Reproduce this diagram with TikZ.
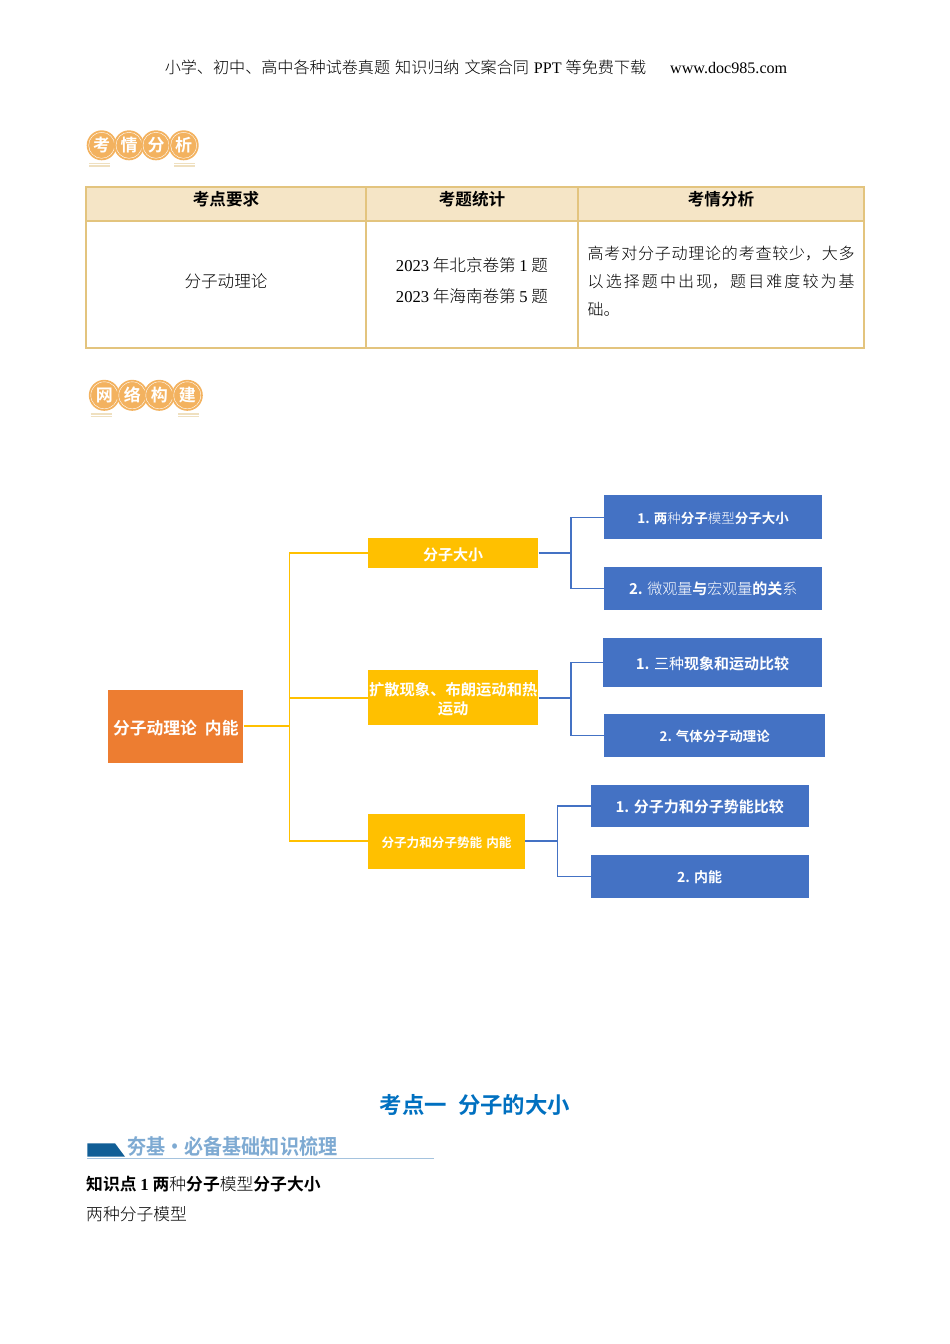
\documentclass[tikz,border=0pt]{standalone}
\usepackage{fontspec}
\setmainfont{Liberation Serif}
\newfontfamily\cjkr{Noto Sans CJK SC}
\newfontfamily\cjkb{Noto Sans CJK SC Bold}
\newfontfamily\cjkl{Noto Sans CJK SC Light}
\XeTeXlinebreaklocale "zh"
\XeTeXlinebreakskip=0pt plus 3pt
\newcommand{\lat}[1]{{\rmfamily #1}}
\newcommand{\fsz}[1]{\fontsize{#1}{#1}\selectfont}
\newcommand{\dn}[2]{\raisebox{0pt}[\dimexpr\height+#1pt+#1pt\relax][\depth]{#2}}
\definecolor{tabline}{HTML}{E3C47E}
\definecolor{tabhead}{HTML}{F5E5C6}
\definecolor{badge}{HTML}{F3B25F}
\definecolor{badgeline}{HTML}{EFE0C0}
\definecolor{rootfill}{HTML}{ED7D31}
\definecolor{midfill}{HTML}{FFC000}
\definecolor{subfill}{HTML}{4472C4}
\definecolor{titleblue}{HTML}{0070C0}
\definecolor{bannerblue}{HTML}{115E96}
\definecolor{bannertext}{HTML}{7EAAD2}
\definecolor{bannerline}{HTML}{A5C3DE}
\tikzset{
  rootbox/.style={fill=rootfill, text=white, inner sep=0pt, font=\cjkb\fsz{16.8}},
  midbox/.style={fill=midfill, text=white, inner sep=0pt, align=center},
  subbox/.style={fill=subfill, text=white, inner sep=0pt, align=center},
  ylink/.style={draw=midfill, line width=1.6pt},
  ylinkin/.style={draw=midfill, line width=2.2pt},
  blink/.style={draw=subfill, line width=1.5pt},
  blinkin/.style={draw=subfill, line width=1.8pt},
  headcell/.style={inner sep=0pt, font=\cjkb\fsz{16.6}},
  bodycell/.style={inner sep=0pt, font=\cjkl\fsz{16.6}},
  coin/.style={circle, fill=badge, minimum size=30pt, inner sep=0pt, text=white, font=\cjkb\fsz{17}},
  coinring/.style={draw=white, line width=.4pt},
  coinbar/.style={draw=badgeline, line width=1.4pt},
}
\begin{document}
\begin{tikzpicture}[x=1pt,y=-1pt]
  \useasboundingbox (0,0) rectangle (950,1344);

  \node[inner sep=0pt, font=\cjkl\fsz{16.1}] (pagehead) at (476,67){小学、初中、高中各种试卷真题\hspace{5pt}知识归纳\hspace{5pt}文案合同\hspace{5pt}\lat{PPT}\hspace{4pt}等免费下载\hspace{24pt}\lat{www.doc985.com}};

  % first badge
  \foreach \x/\t [count=\i] in {101.7/考,129/情,156/分,183.7/析}{
    \node[coin] (kq\i) at (\x,145.3){\t};
    \draw[coinring] (kq\i) circle (13pt);
  }
  \foreach \y in {163.4,166}{
    \draw[coinbar] (89,\y) -- (110,\y);
    \draw[coinbar] (174,\y) -- (195,\y);
  }

  % table
  \fill[tabhead] (86,187) rectangle (864,221);
  \draw[tabline, line width=1.6pt] (86,187) rectangle (864,348);
  \draw[tabline, line width=1.4pt] (86,221) -- (864,221);
  \draw[tabline, line width=1.4pt] (366,187) -- (366,348);
  \draw[tabline, line width=1.4pt] (578,187) -- (578,348);
  \node[headcell] (head0) at (226,199){考点要求};
  \node[headcell] (head1) at (472,199){考题统计};
  \node[headcell] (head2) at (721,199){考情分析};
  \node[bodycell] (cell0) at (226,281){分子动理论};
  \node[bodycell] (cell1) at (472,265){\lat{2023} 年北京卷第 \lat{1} 题};
  \node[bodycell] (cell2) at (472,296){\lat{2023} 年海南卷第 \lat{5} 题};
  \node[bodycell, text width=267pt, align=justify, font=\cjkl\fontsize{16}{28}\selectfont, anchor=north west] (cell3) at (587.5,246){高考对分子动理论的考查较少，大多\linebreak 以选择题中出现，题目难度较为基\linebreak 础。};

  % second badge
  \foreach \x/\t [count=\i] in {104.3/网,132.3/络,159.3/构,187.3/建}{
    \node[coin, minimum size=31pt] (wl\i) at (\x,395.3){\t};
    \draw[coinring] (wl\i) circle (13.5pt);
  }
  \foreach \y in {414,416.6}{
    \draw[coinbar] (90.7,\y) -- (112,\y);
    \draw[coinbar] (178,\y) -- (199.3,\y);
  }

  % tree
  \node[rootbox, minimum width=135pt, minimum height=72.7pt] (root) at (175.8,726.3){\dn{2}{分子动理论\hspace{8pt}内能}};
  \node[midbox, minimum width=170.3pt, minimum height=30.6pt, font=\cjkb\fsz{15}] (size) at (453.2,553){\dn{1.5}{分子大小}};
  \node[midbox, minimum width=170.3pt, minimum height=55.3pt, font=\cjkb\fontsize{15.3}{19.5}\selectfont] (move) at (453.2,697.7){\dn{1.5}{扩散现象、布朗运动和热}\\运动};
  \node[midbox, minimum width=157pt, minimum height=55pt, font=\cjkb\fsz{12.6}] (force) at (446.5,841.2){\dn{1.5}{分子力和分子势能\hspace{4pt}内能}};

  \node[subbox, minimum width=218.3pt, minimum height=44pt, font=\cjkb\fsz{13.5}] (sub0) at (713.2,517.3){\dn{1}{1. 两{\cjkl 种}分子{\cjkl 模型}分子大小}};
  \node[subbox, minimum width=218.3pt, minimum height=43.6pt, font=\cjkb\fsz{15}] (sub1) at (713.2,588.5){\dn{.5}{2. {\cjkl 微观量}与{\cjkl 宏观量}的关{\cjkl 系}}};
  \node[subbox, minimum width=218.4pt, minimum height=48.7pt, font=\cjkb\fsz{15}] (sub2) at (712.5,662.7){\dn{1}{1. {\cjkr 三种}现象和运动比较}};
  \node[subbox, minimum width=221.3pt, minimum height=42.7pt, font=\cjkb\fsz{13.4}] (sub3) at (714.7,735.7){\dn{.5}{2. 气体分子动理论}};
  \node[subbox, minimum width=218pt, minimum height=42.6pt, font=\cjkb\fsz{15}] (sub4) at (699.7,806){\dn{1}{1. 分子力和分子势能比较}};
  \node[subbox, minimum width=218pt, minimum height=42.4pt, font=\cjkb\fsz{14}] (sub5) at (699.7,876.5){\dn{1}{2. 内能}};

  \coordinate (jroot) at (289.3,726.3);
  \coordinate (jsize) at (571,553);
  \coordinate (jmove) at (571,697.7);
  \coordinate (jforce) at (557.7,841.2);

  \draw[ylinkin](root) -- (jroot);
  \draw[ylink](jroot) |- (size);
  \draw[ylink](jroot) |- (move);
  \draw[ylink](jroot) |- (force);

  \draw[blinkin](size) -- (jsize);
  \draw[blink](jsize) |- (sub0);
  \draw[blink](jsize) |- (sub1);
  \draw[blinkin](move) -- (jmove);
  \draw[blink](jmove) |- (sub2);
  \draw[blink](jmove) |- (sub3);
  \draw[blinkin](force) -- (jforce);
  \draw[blink](jforce) |- (sub4);
  \draw[blink](jforce) |- (sub5);

  % section heading
  \node[inner sep=0pt, text=titleblue, font=\cjkb\fsz{22.4}] (title) at (475,1105){考点一\hspace{11pt}分子的大小};
  \fill[bannerblue] (87.3,1143.3) -- (115,1143.3) -- (125,1156.7) -- (87.3,1156.7) -- cycle;
  \draw[bannerline, line width=.9pt] (87,1158.7) -- (434,1158.7);
  \node[inner sep=0pt, anchor=west, text=bannertext, font=\cjkb\fsz{21}] (banner) at (127,1146){\scalebox{.91}[1]{夯基·必备基础知识梳理}};
  \node[inner sep=0pt, anchor=west, font=\cjkb\fsz{16.8}] (point) at (86,1184){知识点 {\rmfamily\bfseries 1} 两{\cjkl 种}分子{\cjkl 模型}分子大小};
  \node[inner sep=0pt, anchor=west, font=\cjkl\fsz{16.8}] (models) at (86,1214){两种分子模型};
\end{tikzpicture}
\end{document}
